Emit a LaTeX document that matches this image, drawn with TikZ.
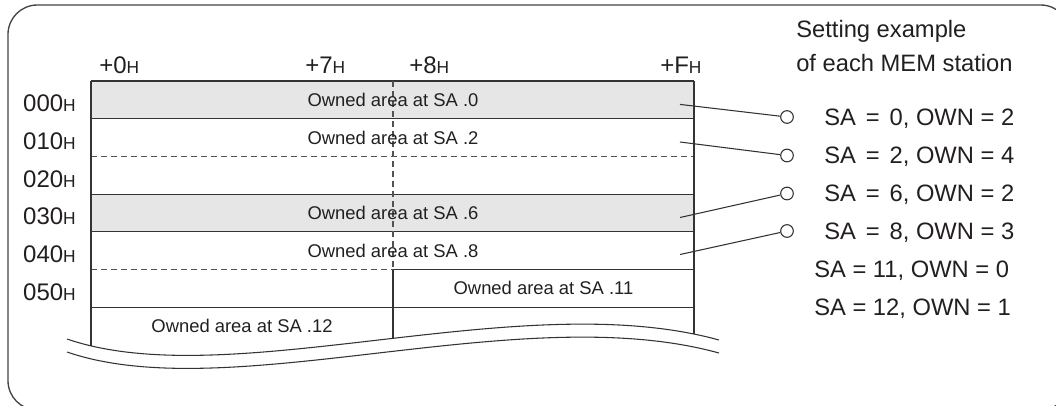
\documentclass[tikz,border=0pt]{standalone}
\usepackage{fontspec}
\setmainfont{Liberation Sans}
\usepackage{xcolor}
\usetikzlibrary{positioning, calc}

\definecolor{ownedgray}{HTML}{E6E6E6}
\definecolor{linegray}{HTML}{333333}
\definecolor{framegray}{HTML}{444444}
\definecolor{textgray}{HTML}{231F20}

\tikzset{
  memline/.style={draw=linegray, line width=0.8pt},
  memdash/.style={draw=linegray!85, line width=0.8pt, dash pattern=on 4.5pt off 3pt},
  owned/.style={font=\fontsize{13.8}{16}\selectfont, text=textgray, inner sep=0pt},
  addr/.style={font=\fontsize{18}{21}\selectfont, text=textgray, inner sep=0pt},
  station/.style={font=\fontsize{17.8}{21}\selectfont, text=textgray, inner sep=0pt, anchor=base west},
  pin/.style={circle, draw=linegray, line width=0.8pt, minimum size=9.5pt, inner sep=0pt, fill=white},
}
\newcommand{\hexH}{{\fontsize{13}{15}\selectfont H}}
\newcommand{\eqgap}{\hspace{2.5pt}}

\begin{document}
\begin{tikzpicture}[x=0.75pt, y=-0.75pt]
    \useasboundingbox (0,0) rectangle (1056,405);
    \clip (0,0) rectangle (1056,405);

    % Outer frame (runs off the right and bottom edges)
    \draw[draw=framegray, line width=1pt, rounded corners=22pt] (8,5) rectangle (1070,410);

    % Shaded rows
    \fill[ownedgray] (91,81) rectangle (694,118.7);
    \fill[ownedgray] (91,194.1) rectangle (694,231.8);

    % Table lines, cut off by the break line
    \begin{scope}
        \clip (0,0) -- (1056,0) -- (1056,340) -- (719,340)
            .. controls (520,285) and (230,395) .. (67,339) -- (0,339) -- cycle;
        \draw[memline] (91,81) -- (694,81);
        \foreach \y in {118.7,194.1,231.8,307.2}
            \draw[memline] (91,\y) -- (694,\y);
        \draw[memline] (393,269.5) -- (694,269.5);
        \draw[memdash] (91,156.4) -- (694,156.4);
        \draw[memdash] (91,269.5) -- (393,269.5);
        \draw[memline] (91,81) -- (91,370);
        \draw[memline] (694,81) -- (694,370);
        \draw[memdash] (393,81) -- (393,269.5);
        \draw[memline] (393,269.5) -- (393,370);
    \end{scope}

    % Break line
    \draw[memline] (67,339) .. controls (230,395) and (520,285) .. (719,340);
    \draw[memline] (67,352) .. controls (230,408) and (520,298) .. (719,353);

    % Column labels
    \node[addr, anchor=base west] (col0) at (99,73) {+0\hexH};
    \node[addr, anchor=base west] (col7) at (305,73) {+7\hexH};
    \node[addr, anchor=base west] (col8) at (409,73) {+8\hexH};
    \node[addr, anchor=base west] (colF) at (660,73) {+F\hexH};

    % Row labels
    \foreach \lab [count=\i from 0] in {000,010,020,030,040,050}
        \node[addr, anchor=base east] (row\lab) at (76,{111.85+37.7*\i}) {\lab\hexH};

    % Owned areas
    \node[owned] (sa0) at (393,99.85) {Owned area at SA .0};
    \node[owned] (sa2) at (393,137.55) {Owned area at SA .2};
    \node[owned] (sa6) at (393,212.95) {Owned area at SA .6};
    \node[owned] (sa8) at (393,250.65) {Owned area at SA .8};
    \node[owned] (sa11) at (543.5,288.35) {Owned area at SA .11};
    \node[owned] (sa12) at (242,326) {Owned area at SA .12};

    % Setting example
    \node[station] (title1) at (796,37) {Setting example};
    \node[station] (title2) at (796,71) {of each MEM station};

    \node[pin] (pin0) at (787,117) {};
    \node[pin] (pin2) at (787,155.5) {};
    \node[pin] (pin6) at (787,193.5) {};
    \node[pin] (pin8) at (787,231) {};

    \node[station] (set0) at (824,125) {SA \eqgap= \eqgap0, OWN = 2};
    \node[station] (set2) at (824,163.5) {SA \eqgap= \eqgap2, OWN = 4};
    \node[station] (set6) at (824,201.5) {SA \eqgap= \eqgap6, OWN = 2};
    \node[station] (set8) at (824,239) {SA \eqgap= \eqgap8, OWN = 3};
    \node[station] (set11) at (814,277.5) {SA = 11, OWN = 0};
    \node[station] (set12) at (814,315.5) {SA = 12, OWN = 1};

    % Connectors
    \coordinate (from0) at (680,104.4);
    \coordinate (from2) at (680,142);
    \coordinate (from6) at (680,217.5);
    \coordinate (from8) at (680,254.5);
    \draw[memline] (from0) -- (pin0);
    \draw[memline] (from2) -- (pin2);
    \draw[memline] (from6) -- (pin6);
    \draw[memline] (from8) -- (pin8);

\end{tikzpicture}
\end{document}
